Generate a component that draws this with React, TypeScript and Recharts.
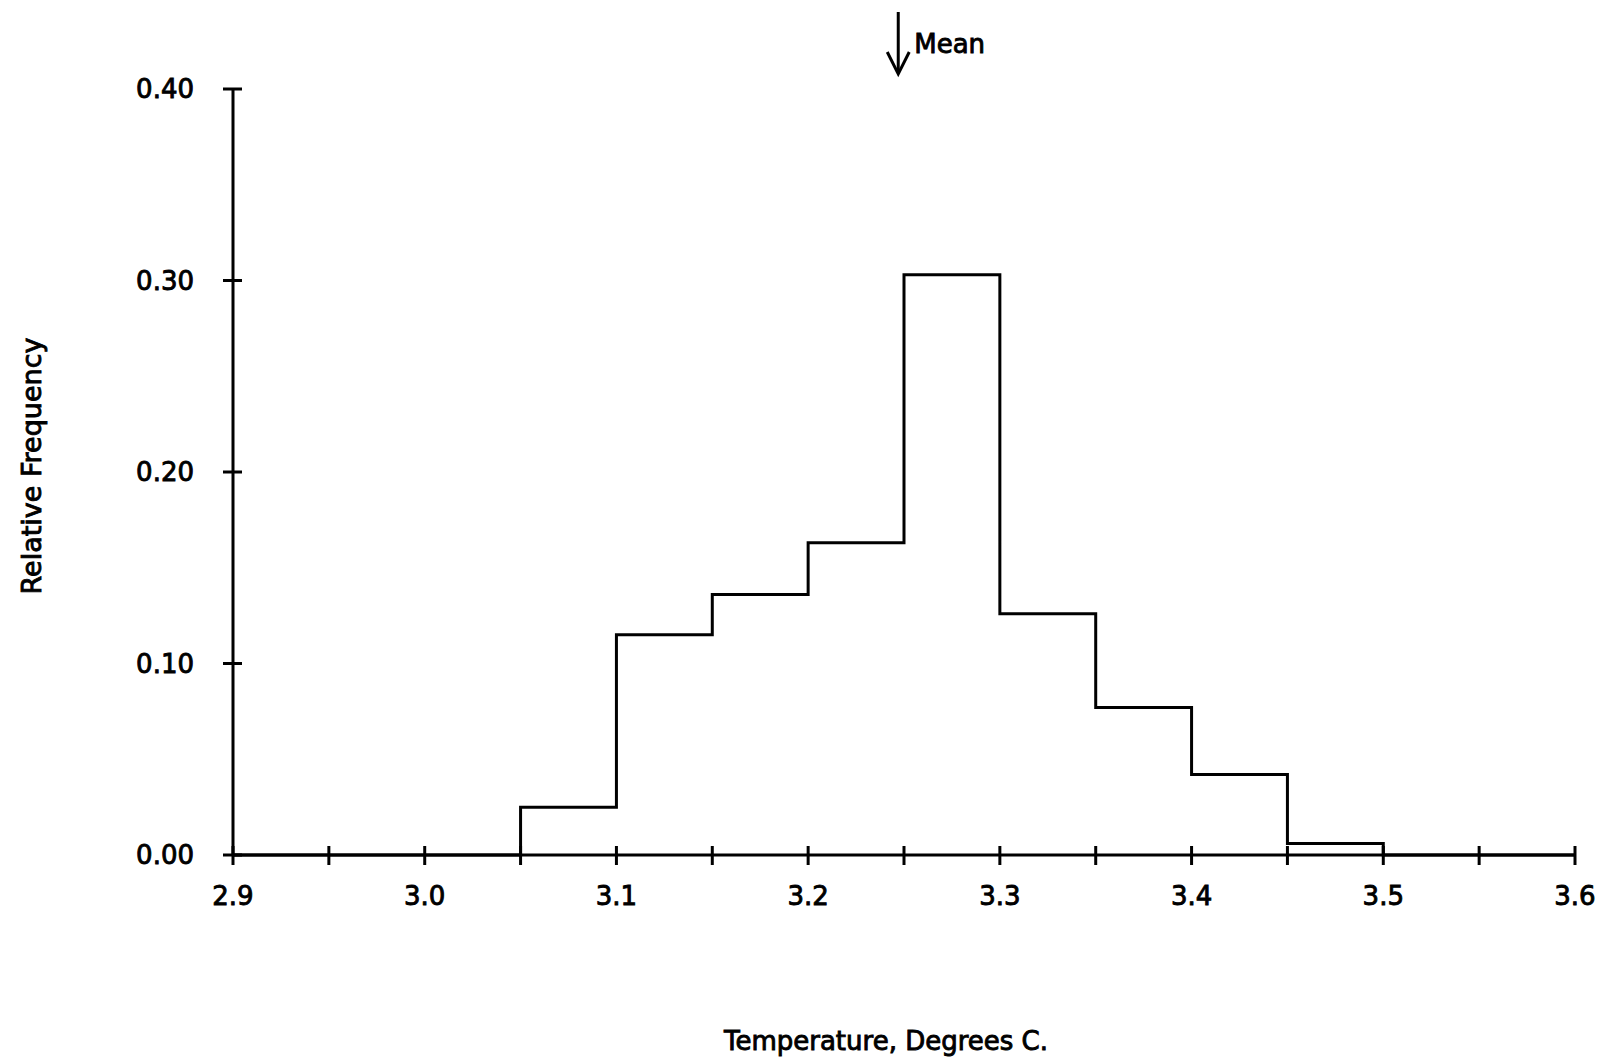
import { ComposedChart, Line, XAxis, YAxis, ReferenceDot } from 'recharts';

// left edge of each 0.05 C bin, and its relative frequency
const binStarts = [2.9, 2.95, 3.0, 3.05, 3.1, 3.15, 3.2, 3.25, 3.3, 3.35, 3.4, 3.45, 3.5, 3.55];
const relFreq = [0, 0, 0, 0.025, 0.115, 0.136, 0.163, 0.303, 0.126, 0.077, 0.042, 0.006, 0, 0];
const xMax = 3.6;
const meanTemp = 3.247;

const xTicks = [2.9, 2.95, 3.0, 3.05, 3.1, 3.15, 3.2, 3.25, 3.3, 3.35, 3.4, 3.45, 3.5, 3.55, 3.6];
const yTicks = [0, 0.1, 0.2, 0.3, 0.4];

const FONT = '"DejaVu Sans", sans-serif';
const FS = 26;
const TEXT_STROKE = 0.9;

// stepAfter needs one extra point at the right edge
const data = [
  ...binStarts.map((t, i) => ({ t, f: relFreq[i] })),
  { t: xMax, f: relFreq[relFreq.length - 1] },
];

function XTick({ x, y, payload }: any) {
  const v = payload.value as number;
  const labelled = Math.round(v * 100) % 10 === 0;
  return (
    <g>
      <line x1={x} x2={x} y1={y - 9} y2={y + 10} stroke="#000" strokeWidth={3} />
      {labelled && (
        <text x={x} y={y + 41} dy="0.35em" textAnchor="middle" fontFamily={FONT} fontSize={FS} fill="#000" stroke="#000" strokeWidth={TEXT_STROKE}>
          {v.toFixed(1)}
        </text>
      )}
    </g>
  );
}

function YTick({ x, y, payload }: any) {
  return (
    <g>
      <line x1={x - 10} x2={x + 9} y1={y} y2={y} stroke="#000" strokeWidth={3} />
      <text x={x - 39} y={y} dy="0.35em" textAnchor="end" fontFamily={FONT} fontSize={FS} fill="#000" stroke="#000" strokeWidth={TEXT_STROKE}>
        {(payload.value as number).toFixed(2)}
      </text>
    </g>
  );
}

function MeanArrow({ cx }: any) {
  return (
    <g stroke="#000" strokeWidth={3} fill="none">
      <line x1={cx} x2={cx} y1={12} y2={73} />
      <polyline points={`${cx - 11},52 ${cx},74 ${cx + 11},52`} strokeWidth={3} />
      <text x={cx + 16} y={53} fontFamily={FONT} fontSize={FS} fill="#000" stroke="#000" strokeWidth={TEXT_STROKE}>
        Mean
      </text>
    </g>
  );
}

export default function App() {
  return (
    <div style={{ position: 'absolute', left: 0, top: 0, width: 1604, height: 1059, background: '#fff' }}>
      <ComposedChart width={1604} height={1059} data={data} margin={{ top: 89, right: 29, left: 133, bottom: 144 }}>
        <XAxis
          dataKey="t"
          type="number"
          domain={[2.9, xMax]}
          ticks={xTicks}
          interval={0}
          tick={<XTick />}
          tickSize={0}
          tickMargin={0}
          tickLine={false}
          axisLine={{ stroke: '#000', strokeWidth: 3 }}
          height={60}
        />
        <YAxis
          type="number"
          domain={[0, 0.4]}
          ticks={yTicks}
          interval={0}
          tick={<YTick />}
          tickSize={0}
          tickMargin={0}
          tickLine={false}
          axisLine={{ stroke: '#000', strokeWidth: 3 }}
          width={100}
        />
        <Line
          dataKey="f"
          type="stepAfter"
          stroke="#000"
          strokeWidth={3}
          dot={false}
          activeDot={false}
          isAnimationActive={false}
        />
        <ReferenceDot x={meanTemp} y={0.4} ifOverflow="visible" shape={<MeanArrow />} />
        <text x={31} y={466} transform="rotate(-90 31 466)" textAnchor="middle" dominantBaseline="central" fontFamily={FONT} fontSize={27} fill="#000" stroke="#000" strokeWidth={TEXT_STROKE}>
          Relative Frequency
        </text>
        <text x={886} y={1041} textAnchor="middle" dominantBaseline="central" fontFamily={FONT} fontSize={FS} fill="#000" stroke="#000" strokeWidth={TEXT_STROKE}>
          Temperature, Degrees C.
        </text>
      </ComposedChart>
    </div>
  );
}
